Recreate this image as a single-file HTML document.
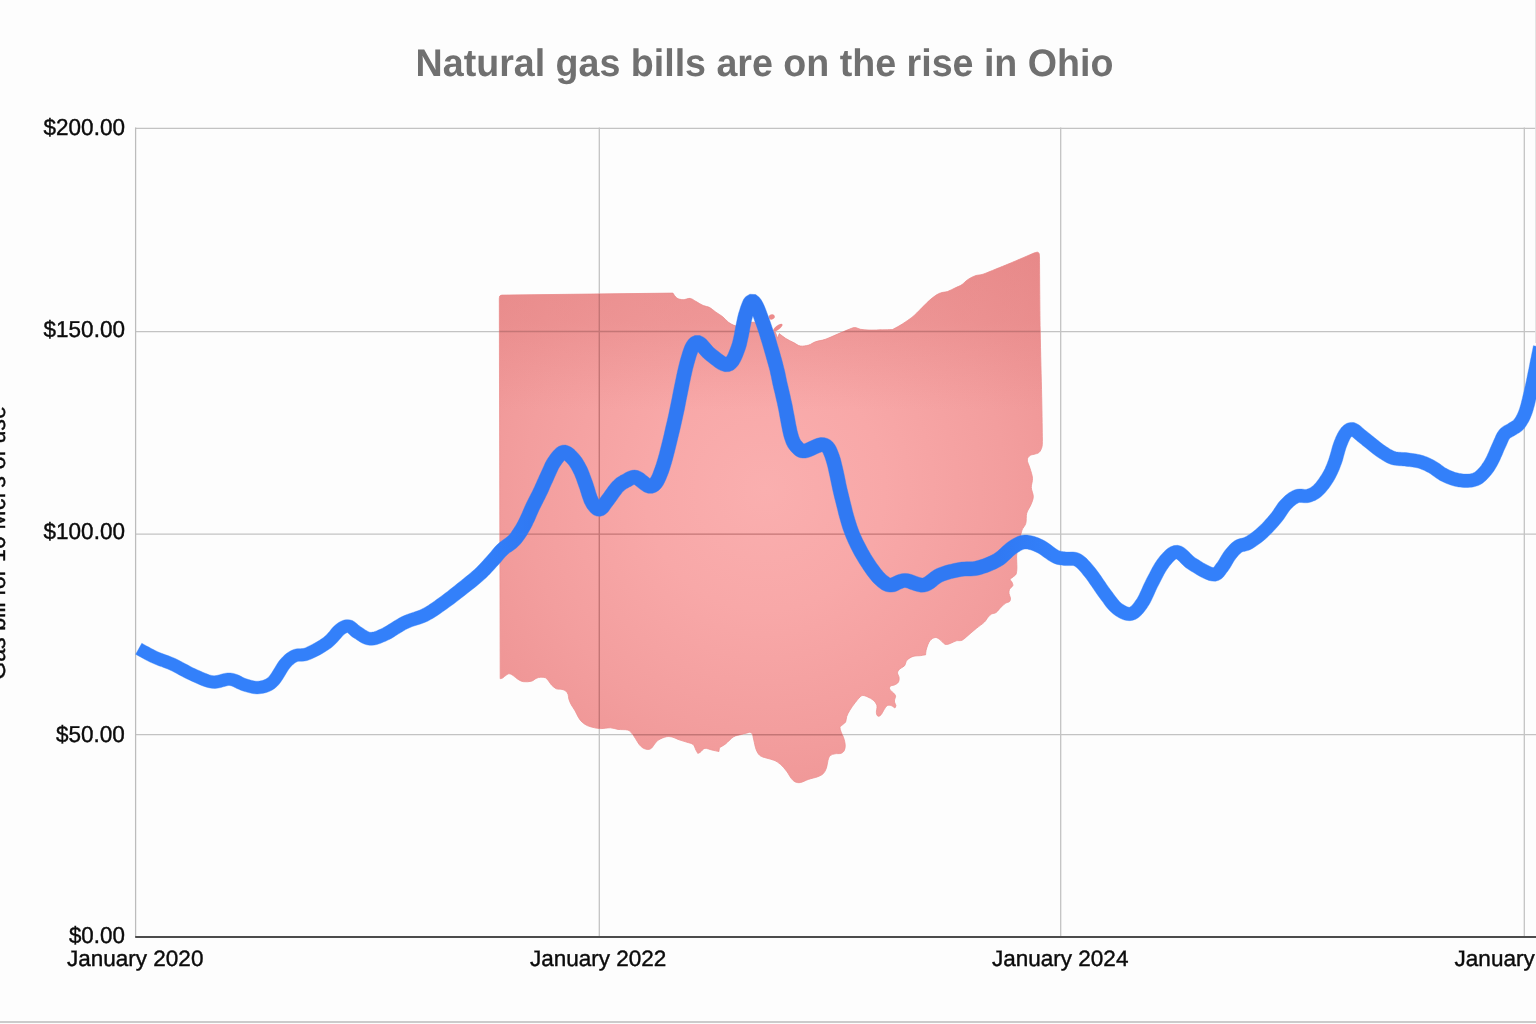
<!DOCTYPE html>
<html lang="en">
<head>
<meta charset="utf-8">
<title>Natural gas bills are on the rise in Ohio</title>
<style>
  html, body { margin: 0; padding: 0; }
  body { width: 1536px; height: 1024px; overflow: hidden; background: #fdfdfd; position: relative; }
  #chart { position: absolute; left: 0; top: 0; width: 1536px; height: 1024px; display: block; }
  text { font-family: "Liberation Sans", Arial, Helvetica, sans-serif; text-rendering: geometricPrecision; }
  .title { font-size: 38.4px; font-weight: 700; fill: #707070; }
  .tick { font-size: 23px; fill: #0b0b0b; stroke: #0b0b0b; stroke-width: 0.4px; paint-order: stroke fill; }
</style>
</head>
<body>
<svg id="chart" width="1536" height="1024" viewBox="0 0 1536 1024">
  <defs>
    <radialGradient id="og" gradientUnits="userSpaceOnUse" cx="765" cy="490" r="400">
      <stop offset="0" stop-color="#faafaf"/>
      <stop offset="0.3" stop-color="#f8a8a8"/>
      <stop offset="0.6" stop-color="#f39e9e"/>
      <stop offset="0.85" stop-color="#ee9494"/>
      <stop offset="1" stop-color="#ea8e8e"/>
    </radialGradient>
    <linearGradient id="lg" gradientUnits="userSpaceOnUse" x1="0" y1="0" x2="1536" y2="0">
      <stop offset="0" stop-color="#3380fa"/>
      <stop offset="0.31" stop-color="#3380fa"/>
      <stop offset="0.345" stop-color="#3079f3"/>
      <stop offset="0.65" stop-color="#3079f3"/>
      <stop offset="0.685" stop-color="#3380fa"/>
      <stop offset="1" stop-color="#3380fa"/>
    </linearGradient>
    <linearGradient id="ot" gradientUnits="userSpaceOnUse" x1="0" y1="250" x2="0" y2="410">
      <stop offset="0" stop-color="#df7c7c" stop-opacity="0.4"/>
      <stop offset="0.45" stop-color="#df7c7c" stop-opacity="0.33"/>
      <stop offset="1" stop-color="#df7c7c" stop-opacity="0"/>
    </linearGradient>
    <clipPath id="oc"><path d="M499.3 298.5C499.4 298.1 499.4 296.6 499.8 296.0C500.2 295.4 501.6 295.2 502.0 295.1L672.9 293.1C673.6 293.9 675.2 297.0 676.9 298.1C678.6 299.2 680.9 299.6 683.1 299.7C685.3 299.8 688.1 298.1 690.2 298.4C692.3 298.7 693.4 300.1 695.6 301.2C697.8 302.4 701.0 304.6 703.4 305.6C705.8 306.6 707.6 306.4 709.7 307.5C711.8 308.6 713.7 310.7 715.9 312.2C718.1 313.7 720.6 315.0 722.7 316.7C724.8 318.4 726.4 320.8 728.5 322.3C730.6 323.8 733.0 325.2 735.2 325.7C737.5 326.2 739.9 325.6 742.0 325.2C744.1 324.8 746.2 323.8 748.0 323.3C749.8 322.8 751.3 322.1 753.0 322.2C754.7 322.2 756.0 322.6 758.0 323.6C760.0 324.6 762.8 326.7 765.0 328.0C767.2 329.3 769.2 330.6 771.0 331.3C772.8 332.1 774.8 332.3 775.5 332.5L777.6 338.2L779.3 333.6C780.4 334.4 783.4 337.0 785.8 338.5C788.2 340.0 791.3 341.4 793.7 342.6C796.1 343.9 797.8 345.6 800.3 346.0C802.8 346.4 806.2 345.8 808.7 345.1C811.2 344.4 812.6 342.8 815.4 341.8C818.2 340.8 821.8 340.6 825.4 339.3C829.0 338.1 833.5 335.8 837.1 334.3C840.7 332.8 844.2 331.2 847.1 330.1C850.0 329.0 852.4 327.7 854.6 327.6C856.8 327.5 858.3 328.9 860.5 329.3C862.7 329.7 865.3 329.9 868.0 330.0C870.7 330.1 872.7 330.1 876.7 330.0C880.8 329.9 889.7 329.7 892.3 329.6C893.4 329.0 896.8 327.3 899.0 326.0C901.2 324.7 903.3 323.5 905.8 321.7C908.3 319.9 911.1 318.2 914.2 315.4C917.3 312.6 921.8 307.7 924.6 305.0C927.4 302.3 928.9 300.7 931.0 299.0C933.1 297.3 935.2 295.7 937.0 294.6C938.8 293.5 940.2 293.0 942.0 292.5C943.8 292.0 945.3 292.2 947.5 291.5C949.7 290.8 952.6 289.1 955.0 288.0C957.4 286.9 960.2 285.8 962.0 284.6C963.8 283.4 964.6 282.1 966.0 281.0C967.4 279.9 968.7 278.9 970.4 278.0C972.1 277.1 973.9 276.1 976.0 275.5C978.1 274.9 979.7 275.3 983.0 274.2C986.3 273.1 991.5 270.8 996.0 269.0C1000.5 267.2 1003.6 266.0 1010.0 263.3C1016.4 260.6 1030.4 254.6 1034.5 252.8C1035.0 252.7 1036.8 252.1 1037.6 252.2C1038.4 252.3 1038.8 252.9 1039.1 253.6C1039.4 254.3 1039.4 256.0 1039.5 256.5C1039.6 268.8 1039.8 306.6 1040.2 330.0C1040.6 353.4 1041.3 378.4 1041.7 396.7C1042.1 415.0 1042.3 432.8 1042.4 440.0C1042.3 441.1 1042.5 444.6 1042.0 446.7C1041.5 448.8 1040.5 451.0 1039.2 452.3C1037.9 453.6 1035.5 453.8 1034.0 454.3C1032.5 454.8 1031.1 454.6 1030.0 455.5C1028.9 456.4 1027.3 457.9 1027.3 460.0C1027.3 462.1 1029.1 465.2 1030.0 468.3C1030.9 471.4 1032.3 475.1 1032.5 478.3C1032.7 481.5 1031.2 484.4 1031.3 487.5C1031.4 490.6 1033.4 493.8 1033.3 496.7C1033.2 499.6 1031.9 502.2 1030.8 505.0C1029.7 507.8 1027.5 510.2 1026.7 513.3C1025.9 516.3 1026.6 520.5 1025.8 523.3C1025.0 526.1 1022.9 527.7 1022.0 530.0C1021.1 532.3 1021.2 534.3 1020.5 537.0C1019.8 539.7 1018.6 543.0 1018.0 546.0C1017.4 549.0 1016.9 552.7 1016.7 555.2C1016.5 557.7 1016.7 559.0 1016.7 561.1C1016.7 563.2 1017.0 566.0 1016.9 568.1C1016.8 570.2 1016.7 572.5 1016.1 574.0C1015.5 575.5 1014.1 576.0 1013.1 576.9C1012.1 577.8 1010.4 578.4 1010.2 579.3C1010.0 580.2 1011.6 581.1 1012.0 582.2C1012.4 583.3 1013.2 584.5 1012.8 585.7C1012.4 586.9 1010.2 587.9 1009.6 589.2C1009.0 590.5 1008.9 591.8 1009.0 593.3C1009.1 594.8 1010.3 596.6 1010.4 598.0C1010.5 599.4 1010.4 600.6 1009.6 601.5C1008.8 602.4 1007.0 602.3 1005.5 603.3C1004.0 604.3 1002.4 605.9 1000.8 607.4C999.2 608.9 997.7 611.4 996.1 612.5C994.5 613.6 992.8 613.3 991.4 614.1C990.0 614.9 989.1 616.1 987.9 617.4C986.7 618.7 986.3 620.2 984.4 622.1C982.5 624.0 978.9 626.3 976.2 628.5C973.5 630.7 970.4 633.5 968.0 635.5C965.6 637.5 964.1 639.3 962.1 640.2C960.1 641.1 958.2 640.3 956.3 640.8C954.3 641.3 952.3 642.8 950.4 643.4C948.5 644.0 946.9 644.9 945.1 644.3C943.4 643.7 941.5 640.7 939.9 639.6C938.2 638.5 936.9 637.3 935.2 637.5C933.5 637.7 931.4 638.9 929.9 640.8C928.4 642.7 927.1 646.7 926.4 649.0C925.7 651.3 925.7 653.8 925.6 654.8C924.8 654.9 923.0 655.3 920.9 655.6C918.8 655.9 915.4 655.6 913.1 656.4C910.8 657.2 908.3 658.7 906.9 660.3C905.5 661.9 905.7 664.4 904.5 665.8C903.3 667.2 901.0 667.7 899.8 668.9C898.6 670.1 897.6 671.4 897.5 672.8C897.4 674.2 899.0 675.9 899.1 677.5C899.2 679.1 899.1 681.0 898.3 682.2C897.5 683.5 895.7 684.4 894.4 685.0C893.1 685.6 891.3 685.4 890.5 686.1C889.7 686.8 889.2 688.0 889.7 689.2C890.2 690.4 892.6 691.9 893.6 693.1C894.6 694.3 895.5 694.9 895.6 696.2C895.7 697.6 894.4 699.4 894.4 701.0C894.4 702.6 895.8 704.4 895.9 705.6C896.0 706.8 895.0 707.6 894.8 708.0C894.2 707.6 892.5 706.0 891.2 705.6C890.0 705.2 888.5 705.0 887.3 705.6C886.1 706.2 885.2 708.0 884.2 709.5C883.2 711.0 882.1 713.6 881.1 714.7C880.1 715.8 878.8 716.6 878.0 716.2C877.2 715.9 876.6 714.5 876.4 712.7C876.2 710.9 877.4 707.7 876.9 705.6C876.4 703.5 874.8 701.6 873.3 700.2C871.8 698.8 869.5 697.8 867.8 697.0C866.1 696.2 864.4 695.5 863.1 695.5C861.8 695.5 861.3 695.8 860.0 697.0C858.7 698.2 857.0 700.3 855.3 702.5C853.6 704.7 851.2 707.9 849.8 710.3C848.4 712.6 847.4 714.6 846.7 716.6C846.0 718.6 846.4 720.6 845.6 722.0C844.8 723.4 842.9 724.3 842.0 725.2C841.1 726.1 840.1 726.3 840.0 727.5C839.9 728.7 840.6 730.5 841.2 732.2C841.9 733.9 842.9 735.6 843.6 737.7C844.3 739.8 845.1 742.6 845.2 744.7C845.3 746.8 845.1 748.8 844.4 750.2C843.7 751.6 842.8 752.7 841.2 753.3C839.7 753.9 836.8 753.4 835.0 753.8C833.2 754.1 831.5 754.5 830.3 755.6C829.1 756.7 828.6 758.2 828.0 760.3C827.4 762.4 827.2 765.9 826.4 768.1C825.6 770.3 824.7 772.2 823.3 773.6C821.9 775.0 820.3 775.7 817.8 776.7C815.3 777.7 811.3 778.4 808.4 779.4C805.5 780.4 802.8 782.1 800.6 782.5C798.4 782.9 796.8 782.6 795.2 781.9C793.6 781.2 792.7 780.1 791.2 778.3C789.8 776.5 788.4 773.6 786.6 771.2C784.8 768.9 782.4 766.0 780.3 764.2C778.2 762.4 776.4 761.3 774.1 760.3C771.8 759.3 768.6 758.8 766.2 758.0C763.9 757.2 761.7 757.0 760.0 755.6C758.3 754.2 757.1 752.0 756.1 749.4C755.1 746.8 754.4 742.6 753.8 740.0C753.1 737.4 752.9 735.0 752.2 733.8C751.5 732.5 750.2 732.5 749.8 732.2C748.4 732.6 744.0 733.7 741.2 734.5C738.5 735.3 736.0 735.3 733.4 736.9C730.8 738.5 727.9 742.1 725.6 743.9C723.3 745.7 720.4 747.1 719.4 747.8L718.9 751.6C717.7 751.3 714.2 750.5 711.9 750.0C709.5 749.5 706.8 748.0 704.8 748.4C702.8 748.8 701.4 751.5 700.2 752.3C699.0 753.1 698.2 753.2 697.8 753.4C697.5 752.8 696.7 751.5 695.9 750.0C695.1 748.5 694.6 745.8 693.1 744.5C691.6 743.2 689.2 743.0 686.9 742.2C684.6 741.4 681.5 740.6 679.1 739.8C676.8 739.0 674.9 737.7 672.8 737.2C670.7 736.7 668.9 736.3 666.6 736.7C664.3 737.1 660.7 738.6 658.8 739.8C656.8 741.0 656.0 742.4 654.8 743.8C653.6 745.1 652.9 747.0 651.7 748.0C650.5 749.0 649.2 749.5 647.8 749.5C646.4 749.5 644.5 748.9 643.1 748.1C641.7 747.3 640.5 746.1 639.2 744.5C637.9 742.9 636.6 740.2 635.3 738.3C634.0 736.3 632.7 734.2 631.4 732.8C630.1 731.4 629.7 730.6 627.5 730.0C625.3 729.4 621.0 729.8 618.1 729.4C615.2 729.0 613.2 727.9 610.3 727.8C607.4 727.7 603.5 728.6 600.9 728.6C598.3 728.6 596.9 728.3 594.7 727.8C592.5 727.3 589.8 726.7 587.7 725.8C585.6 724.9 583.8 723.6 582.2 722.2C580.6 720.8 579.5 719.1 578.3 717.2C577.1 715.3 576.4 713.1 575.2 711.0C574.0 708.9 572.3 706.7 571.2 704.7C570.2 702.7 569.4 700.9 568.9 699.2C568.4 697.5 568.6 695.9 568.1 694.5C567.6 693.1 566.8 691.9 565.8 691.0C564.8 690.1 563.5 689.8 561.9 689.4C560.3 689.0 558.1 689.5 556.4 688.8C554.7 688.0 553.0 686.5 551.7 685.2C550.4 683.9 549.6 682.2 548.6 681.0C547.6 679.8 546.8 678.4 545.5 677.8C544.2 677.2 542.4 677.1 540.8 677.2C539.2 677.3 537.7 677.7 536.1 678.4C534.5 679.1 533.5 680.7 531.4 681.2C529.3 681.8 525.8 682.0 523.6 681.7C521.4 681.4 519.8 680.4 518.1 679.4C516.4 678.4 514.8 676.7 513.4 675.8C512.0 674.9 510.7 673.9 509.5 673.8C508.3 673.6 507.6 674.3 506.4 675.0C505.2 675.7 503.5 677.5 502.5 678.1C501.5 678.7 500.6 678.6 500.2 678.7L499.3 298.5Z"/></clipPath>
  </defs>
  <rect x="0" y="0" width="1536" height="1024" fill="#fdfdfd"/>
  <!-- gridlines -->
  <g stroke="#c3c3c3" stroke-width="1.3" fill="none">
    <line x1="135.2" y1="128.3" x2="1536" y2="128.3"/>
    <line x1="135.2" y1="331.55" x2="1536" y2="331.55"/>
    <line x1="135.2" y1="534.1" x2="1536" y2="534.1"/>
    <line x1="135.2" y1="734.7" x2="1536" y2="734.7"/>
    <line x1="599.3" y1="127.6" x2="599.3" y2="937"/>
    <line x1="1060.7" y1="127.6" x2="1060.7" y2="937"/>
    <line x1="1524.3" y1="127.6" x2="1524.3" y2="937"/>
  </g>
  <line x1="135.6" y1="127.6" x2="135.6" y2="937" stroke="#bcbcbc" stroke-width="1.25"/>
  <!-- Ohio silhouette -->
  <g>
    <path d="M499.3 298.5C499.4 298.1 499.4 296.6 499.8 296.0C500.2 295.4 501.6 295.2 502.0 295.1L672.9 293.1C673.6 293.9 675.2 297.0 676.9 298.1C678.6 299.2 680.9 299.6 683.1 299.7C685.3 299.8 688.1 298.1 690.2 298.4C692.3 298.7 693.4 300.1 695.6 301.2C697.8 302.4 701.0 304.6 703.4 305.6C705.8 306.6 707.6 306.4 709.7 307.5C711.8 308.6 713.7 310.7 715.9 312.2C718.1 313.7 720.6 315.0 722.7 316.7C724.8 318.4 726.4 320.8 728.5 322.3C730.6 323.8 733.0 325.2 735.2 325.7C737.5 326.2 739.9 325.6 742.0 325.2C744.1 324.8 746.2 323.8 748.0 323.3C749.8 322.8 751.3 322.1 753.0 322.2C754.7 322.2 756.0 322.6 758.0 323.6C760.0 324.6 762.8 326.7 765.0 328.0C767.2 329.3 769.2 330.6 771.0 331.3C772.8 332.1 774.8 332.3 775.5 332.5L777.6 338.2L779.3 333.6C780.4 334.4 783.4 337.0 785.8 338.5C788.2 340.0 791.3 341.4 793.7 342.6C796.1 343.9 797.8 345.6 800.3 346.0C802.8 346.4 806.2 345.8 808.7 345.1C811.2 344.4 812.6 342.8 815.4 341.8C818.2 340.8 821.8 340.6 825.4 339.3C829.0 338.1 833.5 335.8 837.1 334.3C840.7 332.8 844.2 331.2 847.1 330.1C850.0 329.0 852.4 327.7 854.6 327.6C856.8 327.5 858.3 328.9 860.5 329.3C862.7 329.7 865.3 329.9 868.0 330.0C870.7 330.1 872.7 330.1 876.7 330.0C880.8 329.9 889.7 329.7 892.3 329.6C893.4 329.0 896.8 327.3 899.0 326.0C901.2 324.7 903.3 323.5 905.8 321.7C908.3 319.9 911.1 318.2 914.2 315.4C917.3 312.6 921.8 307.7 924.6 305.0C927.4 302.3 928.9 300.7 931.0 299.0C933.1 297.3 935.2 295.7 937.0 294.6C938.8 293.5 940.2 293.0 942.0 292.5C943.8 292.0 945.3 292.2 947.5 291.5C949.7 290.8 952.6 289.1 955.0 288.0C957.4 286.9 960.2 285.8 962.0 284.6C963.8 283.4 964.6 282.1 966.0 281.0C967.4 279.9 968.7 278.9 970.4 278.0C972.1 277.1 973.9 276.1 976.0 275.5C978.1 274.9 979.7 275.3 983.0 274.2C986.3 273.1 991.5 270.8 996.0 269.0C1000.5 267.2 1003.6 266.0 1010.0 263.3C1016.4 260.6 1030.4 254.6 1034.5 252.8C1035.0 252.7 1036.8 252.1 1037.6 252.2C1038.4 252.3 1038.8 252.9 1039.1 253.6C1039.4 254.3 1039.4 256.0 1039.5 256.5C1039.6 268.8 1039.8 306.6 1040.2 330.0C1040.6 353.4 1041.3 378.4 1041.7 396.7C1042.1 415.0 1042.3 432.8 1042.4 440.0C1042.3 441.1 1042.5 444.6 1042.0 446.7C1041.5 448.8 1040.5 451.0 1039.2 452.3C1037.9 453.6 1035.5 453.8 1034.0 454.3C1032.5 454.8 1031.1 454.6 1030.0 455.5C1028.9 456.4 1027.3 457.9 1027.3 460.0C1027.3 462.1 1029.1 465.2 1030.0 468.3C1030.9 471.4 1032.3 475.1 1032.5 478.3C1032.7 481.5 1031.2 484.4 1031.3 487.5C1031.4 490.6 1033.4 493.8 1033.3 496.7C1033.2 499.6 1031.9 502.2 1030.8 505.0C1029.7 507.8 1027.5 510.2 1026.7 513.3C1025.9 516.3 1026.6 520.5 1025.8 523.3C1025.0 526.1 1022.9 527.7 1022.0 530.0C1021.1 532.3 1021.2 534.3 1020.5 537.0C1019.8 539.7 1018.6 543.0 1018.0 546.0C1017.4 549.0 1016.9 552.7 1016.7 555.2C1016.5 557.7 1016.7 559.0 1016.7 561.1C1016.7 563.2 1017.0 566.0 1016.9 568.1C1016.8 570.2 1016.7 572.5 1016.1 574.0C1015.5 575.5 1014.1 576.0 1013.1 576.9C1012.1 577.8 1010.4 578.4 1010.2 579.3C1010.0 580.2 1011.6 581.1 1012.0 582.2C1012.4 583.3 1013.2 584.5 1012.8 585.7C1012.4 586.9 1010.2 587.9 1009.6 589.2C1009.0 590.5 1008.9 591.8 1009.0 593.3C1009.1 594.8 1010.3 596.6 1010.4 598.0C1010.5 599.4 1010.4 600.6 1009.6 601.5C1008.8 602.4 1007.0 602.3 1005.5 603.3C1004.0 604.3 1002.4 605.9 1000.8 607.4C999.2 608.9 997.7 611.4 996.1 612.5C994.5 613.6 992.8 613.3 991.4 614.1C990.0 614.9 989.1 616.1 987.9 617.4C986.7 618.7 986.3 620.2 984.4 622.1C982.5 624.0 978.9 626.3 976.2 628.5C973.5 630.7 970.4 633.5 968.0 635.5C965.6 637.5 964.1 639.3 962.1 640.2C960.1 641.1 958.2 640.3 956.3 640.8C954.3 641.3 952.3 642.8 950.4 643.4C948.5 644.0 946.9 644.9 945.1 644.3C943.4 643.7 941.5 640.7 939.9 639.6C938.2 638.5 936.9 637.3 935.2 637.5C933.5 637.7 931.4 638.9 929.9 640.8C928.4 642.7 927.1 646.7 926.4 649.0C925.7 651.3 925.7 653.8 925.6 654.8C924.8 654.9 923.0 655.3 920.9 655.6C918.8 655.9 915.4 655.6 913.1 656.4C910.8 657.2 908.3 658.7 906.9 660.3C905.5 661.9 905.7 664.4 904.5 665.8C903.3 667.2 901.0 667.7 899.8 668.9C898.6 670.1 897.6 671.4 897.5 672.8C897.4 674.2 899.0 675.9 899.1 677.5C899.2 679.1 899.1 681.0 898.3 682.2C897.5 683.5 895.7 684.4 894.4 685.0C893.1 685.6 891.3 685.4 890.5 686.1C889.7 686.8 889.2 688.0 889.7 689.2C890.2 690.4 892.6 691.9 893.6 693.1C894.6 694.3 895.5 694.9 895.6 696.2C895.7 697.6 894.4 699.4 894.4 701.0C894.4 702.6 895.8 704.4 895.9 705.6C896.0 706.8 895.0 707.6 894.8 708.0C894.2 707.6 892.5 706.0 891.2 705.6C890.0 705.2 888.5 705.0 887.3 705.6C886.1 706.2 885.2 708.0 884.2 709.5C883.2 711.0 882.1 713.6 881.1 714.7C880.1 715.8 878.8 716.6 878.0 716.2C877.2 715.9 876.6 714.5 876.4 712.7C876.2 710.9 877.4 707.7 876.9 705.6C876.4 703.5 874.8 701.6 873.3 700.2C871.8 698.8 869.5 697.8 867.8 697.0C866.1 696.2 864.4 695.5 863.1 695.5C861.8 695.5 861.3 695.8 860.0 697.0C858.7 698.2 857.0 700.3 855.3 702.5C853.6 704.7 851.2 707.9 849.8 710.3C848.4 712.6 847.4 714.6 846.7 716.6C846.0 718.6 846.4 720.6 845.6 722.0C844.8 723.4 842.9 724.3 842.0 725.2C841.1 726.1 840.1 726.3 840.0 727.5C839.9 728.7 840.6 730.5 841.2 732.2C841.9 733.9 842.9 735.6 843.6 737.7C844.3 739.8 845.1 742.6 845.2 744.7C845.3 746.8 845.1 748.8 844.4 750.2C843.7 751.6 842.8 752.7 841.2 753.3C839.7 753.9 836.8 753.4 835.0 753.8C833.2 754.1 831.5 754.5 830.3 755.6C829.1 756.7 828.6 758.2 828.0 760.3C827.4 762.4 827.2 765.9 826.4 768.1C825.6 770.3 824.7 772.2 823.3 773.6C821.9 775.0 820.3 775.7 817.8 776.7C815.3 777.7 811.3 778.4 808.4 779.4C805.5 780.4 802.8 782.1 800.6 782.5C798.4 782.9 796.8 782.6 795.2 781.9C793.6 781.2 792.7 780.1 791.2 778.3C789.8 776.5 788.4 773.6 786.6 771.2C784.8 768.9 782.4 766.0 780.3 764.2C778.2 762.4 776.4 761.3 774.1 760.3C771.8 759.3 768.6 758.8 766.2 758.0C763.9 757.2 761.7 757.0 760.0 755.6C758.3 754.2 757.1 752.0 756.1 749.4C755.1 746.8 754.4 742.6 753.8 740.0C753.1 737.4 752.9 735.0 752.2 733.8C751.5 732.5 750.2 732.5 749.8 732.2C748.4 732.6 744.0 733.7 741.2 734.5C738.5 735.3 736.0 735.3 733.4 736.9C730.8 738.5 727.9 742.1 725.6 743.9C723.3 745.7 720.4 747.1 719.4 747.8L718.9 751.6C717.7 751.3 714.2 750.5 711.9 750.0C709.5 749.5 706.8 748.0 704.8 748.4C702.8 748.8 701.4 751.5 700.2 752.3C699.0 753.1 698.2 753.2 697.8 753.4C697.5 752.8 696.7 751.5 695.9 750.0C695.1 748.5 694.6 745.8 693.1 744.5C691.6 743.2 689.2 743.0 686.9 742.2C684.6 741.4 681.5 740.6 679.1 739.8C676.8 739.0 674.9 737.7 672.8 737.2C670.7 736.7 668.9 736.3 666.6 736.7C664.3 737.1 660.7 738.6 658.8 739.8C656.8 741.0 656.0 742.4 654.8 743.8C653.6 745.1 652.9 747.0 651.7 748.0C650.5 749.0 649.2 749.5 647.8 749.5C646.4 749.5 644.5 748.9 643.1 748.1C641.7 747.3 640.5 746.1 639.2 744.5C637.9 742.9 636.6 740.2 635.3 738.3C634.0 736.3 632.7 734.2 631.4 732.8C630.1 731.4 629.7 730.6 627.5 730.0C625.3 729.4 621.0 729.8 618.1 729.4C615.2 729.0 613.2 727.9 610.3 727.8C607.4 727.7 603.5 728.6 600.9 728.6C598.3 728.6 596.9 728.3 594.7 727.8C592.5 727.3 589.8 726.7 587.7 725.8C585.6 724.9 583.8 723.6 582.2 722.2C580.6 720.8 579.5 719.1 578.3 717.2C577.1 715.3 576.4 713.1 575.2 711.0C574.0 708.9 572.3 706.7 571.2 704.7C570.2 702.7 569.4 700.9 568.9 699.2C568.4 697.5 568.6 695.9 568.1 694.5C567.6 693.1 566.8 691.9 565.8 691.0C564.8 690.1 563.5 689.8 561.9 689.4C560.3 689.0 558.1 689.5 556.4 688.8C554.7 688.0 553.0 686.5 551.7 685.2C550.4 683.9 549.6 682.2 548.6 681.0C547.6 679.8 546.8 678.4 545.5 677.8C544.2 677.2 542.4 677.1 540.8 677.2C539.2 677.3 537.7 677.7 536.1 678.4C534.5 679.1 533.5 680.7 531.4 681.2C529.3 681.8 525.8 682.0 523.6 681.7C521.4 681.4 519.8 680.4 518.1 679.4C516.4 678.4 514.8 676.7 513.4 675.8C512.0 674.9 510.7 673.9 509.5 673.8C508.3 673.6 507.6 674.3 506.4 675.0C505.2 675.7 503.5 677.5 502.5 678.1C501.5 678.7 500.6 678.6 500.2 678.7L499.3 298.5Z" fill="url(#og)" stroke="#ec9191" stroke-width="0.8" stroke-linejoin="round"/>
    <path d="M499.3 298.5C499.4 298.1 499.4 296.6 499.8 296.0C500.2 295.4 501.6 295.2 502.0 295.1L672.9 293.1C673.6 293.9 675.2 297.0 676.9 298.1C678.6 299.2 680.9 299.6 683.1 299.7C685.3 299.8 688.1 298.1 690.2 298.4C692.3 298.7 693.4 300.1 695.6 301.2C697.8 302.4 701.0 304.6 703.4 305.6C705.8 306.6 707.6 306.4 709.7 307.5C711.8 308.6 713.7 310.7 715.9 312.2C718.1 313.7 720.6 315.0 722.7 316.7C724.8 318.4 726.4 320.8 728.5 322.3C730.6 323.8 733.0 325.2 735.2 325.7C737.5 326.2 739.9 325.6 742.0 325.2C744.1 324.8 746.2 323.8 748.0 323.3C749.8 322.8 751.3 322.1 753.0 322.2C754.7 322.2 756.0 322.6 758.0 323.6C760.0 324.6 762.8 326.7 765.0 328.0C767.2 329.3 769.2 330.6 771.0 331.3C772.8 332.1 774.8 332.3 775.5 332.5L777.6 338.2L779.3 333.6C780.4 334.4 783.4 337.0 785.8 338.5C788.2 340.0 791.3 341.4 793.7 342.6C796.1 343.9 797.8 345.6 800.3 346.0C802.8 346.4 806.2 345.8 808.7 345.1C811.2 344.4 812.6 342.8 815.4 341.8C818.2 340.8 821.8 340.6 825.4 339.3C829.0 338.1 833.5 335.8 837.1 334.3C840.7 332.8 844.2 331.2 847.1 330.1C850.0 329.0 852.4 327.7 854.6 327.6C856.8 327.5 858.3 328.9 860.5 329.3C862.7 329.7 865.3 329.9 868.0 330.0C870.7 330.1 872.7 330.1 876.7 330.0C880.8 329.9 889.7 329.7 892.3 329.6C893.4 329.0 896.8 327.3 899.0 326.0C901.2 324.7 903.3 323.5 905.8 321.7C908.3 319.9 911.1 318.2 914.2 315.4C917.3 312.6 921.8 307.7 924.6 305.0C927.4 302.3 928.9 300.7 931.0 299.0C933.1 297.3 935.2 295.7 937.0 294.6C938.8 293.5 940.2 293.0 942.0 292.5C943.8 292.0 945.3 292.2 947.5 291.5C949.7 290.8 952.6 289.1 955.0 288.0C957.4 286.9 960.2 285.8 962.0 284.6C963.8 283.4 964.6 282.1 966.0 281.0C967.4 279.9 968.7 278.9 970.4 278.0C972.1 277.1 973.9 276.1 976.0 275.5C978.1 274.9 979.7 275.3 983.0 274.2C986.3 273.1 991.5 270.8 996.0 269.0C1000.5 267.2 1003.6 266.0 1010.0 263.3C1016.4 260.6 1030.4 254.6 1034.5 252.8C1035.0 252.7 1036.8 252.1 1037.6 252.2C1038.4 252.3 1038.8 252.9 1039.1 253.6C1039.4 254.3 1039.4 256.0 1039.5 256.5C1039.6 268.8 1039.8 306.6 1040.2 330.0C1040.6 353.4 1041.3 378.4 1041.7 396.7C1042.1 415.0 1042.3 432.8 1042.4 440.0C1042.3 441.1 1042.5 444.6 1042.0 446.7C1041.5 448.8 1040.5 451.0 1039.2 452.3C1037.9 453.6 1035.5 453.8 1034.0 454.3C1032.5 454.8 1031.1 454.6 1030.0 455.5C1028.9 456.4 1027.3 457.9 1027.3 460.0C1027.3 462.1 1029.1 465.2 1030.0 468.3C1030.9 471.4 1032.3 475.1 1032.5 478.3C1032.7 481.5 1031.2 484.4 1031.3 487.5C1031.4 490.6 1033.4 493.8 1033.3 496.7C1033.2 499.6 1031.9 502.2 1030.8 505.0C1029.7 507.8 1027.5 510.2 1026.7 513.3C1025.9 516.3 1026.6 520.5 1025.8 523.3C1025.0 526.1 1022.9 527.7 1022.0 530.0C1021.1 532.3 1021.2 534.3 1020.5 537.0C1019.8 539.7 1018.6 543.0 1018.0 546.0C1017.4 549.0 1016.9 552.7 1016.7 555.2C1016.5 557.7 1016.7 559.0 1016.7 561.1C1016.7 563.2 1017.0 566.0 1016.9 568.1C1016.8 570.2 1016.7 572.5 1016.1 574.0C1015.5 575.5 1014.1 576.0 1013.1 576.9C1012.1 577.8 1010.4 578.4 1010.2 579.3C1010.0 580.2 1011.6 581.1 1012.0 582.2C1012.4 583.3 1013.2 584.5 1012.8 585.7C1012.4 586.9 1010.2 587.9 1009.6 589.2C1009.0 590.5 1008.9 591.8 1009.0 593.3C1009.1 594.8 1010.3 596.6 1010.4 598.0C1010.5 599.4 1010.4 600.6 1009.6 601.5C1008.8 602.4 1007.0 602.3 1005.5 603.3C1004.0 604.3 1002.4 605.9 1000.8 607.4C999.2 608.9 997.7 611.4 996.1 612.5C994.5 613.6 992.8 613.3 991.4 614.1C990.0 614.9 989.1 616.1 987.9 617.4C986.7 618.7 986.3 620.2 984.4 622.1C982.5 624.0 978.9 626.3 976.2 628.5C973.5 630.7 970.4 633.5 968.0 635.5C965.6 637.5 964.1 639.3 962.1 640.2C960.1 641.1 958.2 640.3 956.3 640.8C954.3 641.3 952.3 642.8 950.4 643.4C948.5 644.0 946.9 644.9 945.1 644.3C943.4 643.7 941.5 640.7 939.9 639.6C938.2 638.5 936.9 637.3 935.2 637.5C933.5 637.7 931.4 638.9 929.9 640.8C928.4 642.7 927.1 646.7 926.4 649.0C925.7 651.3 925.7 653.8 925.6 654.8C924.8 654.9 923.0 655.3 920.9 655.6C918.8 655.9 915.4 655.6 913.1 656.4C910.8 657.2 908.3 658.7 906.9 660.3C905.5 661.9 905.7 664.4 904.5 665.8C903.3 667.2 901.0 667.7 899.8 668.9C898.6 670.1 897.6 671.4 897.5 672.8C897.4 674.2 899.0 675.9 899.1 677.5C899.2 679.1 899.1 681.0 898.3 682.2C897.5 683.5 895.7 684.4 894.4 685.0C893.1 685.6 891.3 685.4 890.5 686.1C889.7 686.8 889.2 688.0 889.7 689.2C890.2 690.4 892.6 691.9 893.6 693.1C894.6 694.3 895.5 694.9 895.6 696.2C895.7 697.6 894.4 699.4 894.4 701.0C894.4 702.6 895.8 704.4 895.9 705.6C896.0 706.8 895.0 707.6 894.8 708.0C894.2 707.6 892.5 706.0 891.2 705.6C890.0 705.2 888.5 705.0 887.3 705.6C886.1 706.2 885.2 708.0 884.2 709.5C883.2 711.0 882.1 713.6 881.1 714.7C880.1 715.8 878.8 716.6 878.0 716.2C877.2 715.9 876.6 714.5 876.4 712.7C876.2 710.9 877.4 707.7 876.9 705.6C876.4 703.5 874.8 701.6 873.3 700.2C871.8 698.8 869.5 697.8 867.8 697.0C866.1 696.2 864.4 695.5 863.1 695.5C861.8 695.5 861.3 695.8 860.0 697.0C858.7 698.2 857.0 700.3 855.3 702.5C853.6 704.7 851.2 707.9 849.8 710.3C848.4 712.6 847.4 714.6 846.7 716.6C846.0 718.6 846.4 720.6 845.6 722.0C844.8 723.4 842.9 724.3 842.0 725.2C841.1 726.1 840.1 726.3 840.0 727.5C839.9 728.7 840.6 730.5 841.2 732.2C841.9 733.9 842.9 735.6 843.6 737.7C844.3 739.8 845.1 742.6 845.2 744.7C845.3 746.8 845.1 748.8 844.4 750.2C843.7 751.6 842.8 752.7 841.2 753.3C839.7 753.9 836.8 753.4 835.0 753.8C833.2 754.1 831.5 754.5 830.3 755.6C829.1 756.7 828.6 758.2 828.0 760.3C827.4 762.4 827.2 765.9 826.4 768.1C825.6 770.3 824.7 772.2 823.3 773.6C821.9 775.0 820.3 775.7 817.8 776.7C815.3 777.7 811.3 778.4 808.4 779.4C805.5 780.4 802.8 782.1 800.6 782.5C798.4 782.9 796.8 782.6 795.2 781.9C793.6 781.2 792.7 780.1 791.2 778.3C789.8 776.5 788.4 773.6 786.6 771.2C784.8 768.9 782.4 766.0 780.3 764.2C778.2 762.4 776.4 761.3 774.1 760.3C771.8 759.3 768.6 758.8 766.2 758.0C763.9 757.2 761.7 757.0 760.0 755.6C758.3 754.2 757.1 752.0 756.1 749.4C755.1 746.8 754.4 742.6 753.8 740.0C753.1 737.4 752.9 735.0 752.2 733.8C751.5 732.5 750.2 732.5 749.8 732.2C748.4 732.6 744.0 733.7 741.2 734.5C738.5 735.3 736.0 735.3 733.4 736.9C730.8 738.5 727.9 742.1 725.6 743.9C723.3 745.7 720.4 747.1 719.4 747.8L718.9 751.6C717.7 751.3 714.2 750.5 711.9 750.0C709.5 749.5 706.8 748.0 704.8 748.4C702.8 748.8 701.4 751.5 700.2 752.3C699.0 753.1 698.2 753.2 697.8 753.4C697.5 752.8 696.7 751.5 695.9 750.0C695.1 748.5 694.6 745.8 693.1 744.5C691.6 743.2 689.2 743.0 686.9 742.2C684.6 741.4 681.5 740.6 679.1 739.8C676.8 739.0 674.9 737.7 672.8 737.2C670.7 736.7 668.9 736.3 666.6 736.7C664.3 737.1 660.7 738.6 658.8 739.8C656.8 741.0 656.0 742.4 654.8 743.8C653.6 745.1 652.9 747.0 651.7 748.0C650.5 749.0 649.2 749.5 647.8 749.5C646.4 749.5 644.5 748.9 643.1 748.1C641.7 747.3 640.5 746.1 639.2 744.5C637.9 742.9 636.6 740.2 635.3 738.3C634.0 736.3 632.7 734.2 631.4 732.8C630.1 731.4 629.7 730.6 627.5 730.0C625.3 729.4 621.0 729.8 618.1 729.4C615.2 729.0 613.2 727.9 610.3 727.8C607.4 727.7 603.5 728.6 600.9 728.6C598.3 728.6 596.9 728.3 594.7 727.8C592.5 727.3 589.8 726.7 587.7 725.8C585.6 724.9 583.8 723.6 582.2 722.2C580.6 720.8 579.5 719.1 578.3 717.2C577.1 715.3 576.4 713.1 575.2 711.0C574.0 708.9 572.3 706.7 571.2 704.7C570.2 702.7 569.4 700.9 568.9 699.2C568.4 697.5 568.6 695.9 568.1 694.5C567.6 693.1 566.8 691.9 565.8 691.0C564.8 690.1 563.5 689.8 561.9 689.4C560.3 689.0 558.1 689.5 556.4 688.8C554.7 688.0 553.0 686.5 551.7 685.2C550.4 683.9 549.6 682.2 548.6 681.0C547.6 679.8 546.8 678.4 545.5 677.8C544.2 677.2 542.4 677.1 540.8 677.2C539.2 677.3 537.7 677.7 536.1 678.4C534.5 679.1 533.5 680.7 531.4 681.2C529.3 681.8 525.8 682.0 523.6 681.7C521.4 681.4 519.8 680.4 518.1 679.4C516.4 678.4 514.8 676.7 513.4 675.8C512.0 674.9 510.7 673.9 509.5 673.8C508.3 673.6 507.6 674.3 506.4 675.0C505.2 675.7 503.5 677.5 502.5 678.1C501.5 678.7 500.6 678.6 500.2 678.7L499.3 298.5Z" fill="url(#ot)"/>
    <ellipse cx="771.8" cy="316.9" rx="3" ry="2.6" fill="#ec8b8b" transform="rotate(-20 771.8 316.9)"/>
    <ellipse cx="777.8" cy="327.7" rx="5.8" ry="2.1" fill="#ec8b8b" transform="rotate(-38 777.8 327.7)"/>
  </g>
  <!-- gridlines showing through Ohio -->
  <g stroke="#c47676" stroke-width="1.4" fill="none" clip-path="url(#oc)">
    <line x1="135.2" y1="331.55" x2="1536" y2="331.55"/>
    <line x1="135.2" y1="534.1" x2="1536" y2="534.1"/>
    <line x1="135.2" y1="734.7" x2="1536" y2="734.7"/>
    <line x1="599.3" y1="127.6" x2="599.3" y2="937"/>
  </g>
  <!-- axis baseline -->
  <line x1="135.2" y1="937.1" x2="1536" y2="937.1" stroke="#4c4c4c" stroke-width="2"/>
  <!-- data line -->
  <path d="M135.7 654.3L137.0 655.0L138.6 655.9L140.6 657.0L142.8 658.2L145.1 659.5L147.6 660.8L150.0 662.0L152.4 663.1L154.7 664.1L157.0 665.0L159.2 665.9L161.4 666.6L163.5 667.4L165.6 668.2L167.8 669.1L169.9 670.0L172.1 671.0L174.4 672.2L176.8 673.5L179.3 674.9L181.9 676.3L184.6 677.7L187.2 679.0L189.9 680.2L192.4 681.4L194.9 682.5L197.6 683.7L200.3 684.9L203.0 686.0L205.8 686.9L208.7 687.7L211.8 688.3L215.1 688.4L218.1 688.1L220.9 687.5L223.3 686.8L225.4 686.2L227.1 685.8L228.4 685.5L229.5 685.5L230.6 685.7L231.9 686.1L233.4 686.7L235.0 687.5L236.8 688.4L238.8 689.3L240.9 690.2L243.1 691.0L245.0 691.6L246.8 692.1L248.6 692.6L250.6 693.1L252.6 693.5L254.8 693.8L257.1 693.9L259.3 693.8L261.4 693.5L263.5 693.2L265.6 692.7L267.8 692.0L270.1 691.1L272.3 689.9L274.6 688.4L276.8 686.6L279.0 684.3L280.9 681.7L282.7 679.0L284.4 676.3L285.9 673.7L287.4 671.3L288.7 669.3L289.9 667.7L291.0 666.5L292.1 665.3L293.0 664.4L293.9 663.7L294.8 663.0L295.6 662.5L296.5 662.0L297.4 661.6L297.9 661.4L298.5 661.3L299.4 661.3L300.7 661.3L302.5 661.2L304.7 661.0L307.2 660.5L309.8 659.6L312.3 658.6L315.0 657.3L317.7 655.9L320.6 654.4L323.5 652.7L326.2 651.0L328.9 649.3L331.4 647.6L333.7 645.6L335.8 643.6L337.7 641.6L339.4 639.6L340.8 637.9L342.1 636.4L343.1 635.3L344.0 634.5L345.0 633.8L345.8 633.2L346.5 632.9L346.9 632.7L347.2 632.6L347.3 632.6L347.4 632.6L347.4 632.6L347.3 632.5L347.4 632.6L347.8 632.9L348.6 633.6L349.6 634.5L350.9 635.7L352.4 636.9L354.0 637.9L355.4 638.8L356.7 639.7L358.3 640.7L360.1 641.9L362.0 643.0L364.3 644.0L366.8 644.8L369.5 645.2L372.1 645.2L374.5 645.0L376.9 644.5L379.1 643.8L381.3 643.0L383.4 642.1L385.6 641.2L387.9 640.1L390.4 638.9L393.0 637.4L395.6 635.7L398.2 634.1L400.8 632.5L403.3 631.0L405.6 629.6L407.9 628.4L410.0 627.5L412.3 626.6L414.7 625.8L417.2 625.0L419.8 624.2L422.5 623.3L425.2 622.2L428.0 621.0L430.5 619.6L433.0 618.2L435.4 616.7L437.7 615.2L439.9 613.7L442.2 612.1L444.4 610.5L446.6 609.0L448.9 607.3L451.3 605.6L453.6 603.9L456.0 602.1L458.3 600.3L460.6 598.5L462.9 596.7L465.2 594.9L467.6 593.0L469.9 591.2L472.4 589.3L474.8 587.4L477.2 585.4L479.5 583.5L481.8 581.6L484.0 579.6L486.1 577.7L488.0 575.8L489.9 573.9L491.6 572.0L493.3 570.2L494.9 568.5L496.4 566.8L497.9 565.2L499.4 563.6L500.8 562.0L502.0 560.5L503.2 559.1L504.3 557.8L505.4 556.6L506.5 555.4L507.5 554.4L508.6 553.5L509.7 552.6L511.1 551.7L512.6 550.7L514.2 549.5L516.0 548.2L517.8 546.6L519.6 544.8L521.2 542.9L522.7 541.0L524.1 539.0L525.5 537.0L526.9 534.9L528.1 532.8L529.4 530.6L530.6 528.4L531.9 526.1L533.0 523.6L534.2 521.2L535.3 518.7L536.3 516.3L537.3 514.0L538.3 511.8L539.2 509.8L540.1 507.9L541.1 506.0L542.0 504.2L542.9 502.4L543.8 500.6L544.8 498.7L545.7 496.8L546.7 494.8L547.7 492.7L548.7 490.5L549.6 488.3L550.6 486.1L551.5 484.0L552.5 481.9L553.4 479.9L554.2 478.0L555.1 476.1L555.9 474.3L556.7 472.5L557.4 470.9L558.1 469.4L558.8 468.1L559.5 466.9L560.3 465.7L561.2 464.4L562.2 463.0L563.2 461.7L564.1 460.6L564.9 459.7L565.5 459.2L565.5 459.1L564.8 459.4L563.8 459.4L563.3 459.3L563.4 459.4L563.9 459.7L564.6 460.3L565.5 461.2L566.5 462.2L567.4 463.2L568.2 464.1L569.0 465.0L569.8 466.2L570.6 467.4L571.4 468.7L572.2 470.2L573.0 471.7L573.7 473.2L574.5 474.7L575.1 476.2L575.8 477.9L576.5 479.7L577.1 481.5L577.8 483.5L578.5 485.4L579.2 487.4L579.9 489.3L580.5 491.4L581.2 493.6L581.9 495.9L582.7 498.3L583.5 500.6L584.4 503.0L585.5 505.1L586.5 506.9L587.6 508.7L588.9 510.3L590.3 512.0L591.9 513.6L594.0 515.0L596.8 516.1L600.4 516.3L603.8 515.2L606.2 513.6L607.9 511.9L609.2 510.2L610.3 508.6L611.4 507.1L612.4 505.7L613.4 504.4L614.6 502.8L615.9 501.0L617.3 499.1L618.5 497.3L619.8 495.6L621.0 494.0L622.0 492.6L622.9 491.6L623.8 490.8L624.5 490.1L625.2 489.5L625.9 489.1L626.6 488.6L627.3 488.2L628.2 487.7L629.3 487.1L630.7 486.4L631.9 485.7L632.9 485.1L633.6 484.8L634.0 484.6L634.2 484.5L634.3 484.5L634.1 484.4L634.3 484.5L635.3 485.2L637.0 486.6L639.1 488.3L641.5 490.1L644.4 491.9L648.1 493.3L652.6 493.3L656.2 491.9L658.8 490.2L661.0 487.9L662.8 485.5L664.3 482.7L665.7 479.7L667.1 476.3L668.6 472.4L670.1 467.8L671.7 462.6L673.2 456.9L674.8 450.7L676.4 444.3L678.0 437.6L679.6 430.9L681.2 424.1L682.8 416.8L684.5 408.9L686.1 400.6L687.8 392.2L689.4 384.1L691.0 376.5L692.5 369.8L693.9 364.4L695.2 359.9L696.3 356.1L697.4 353.2L698.2 351.0L698.9 349.6L699.3 349.1L699.3 349.1L698.3 349.5L696.3 349.4L695.6 349.2L696.3 349.8L697.7 351.3L699.4 353.4L701.4 355.7L703.6 358.1L706.0 360.1L708.2 361.7L710.3 363.4L712.7 365.3L715.2 367.2L718.0 369.1L721.1 370.6L724.9 371.7L729.4 371.6L733.3 369.9L736.1 367.6L738.3 364.9L740.0 362.1L741.4 359.2L742.7 356.2L743.9 353.1L745.1 349.8L746.3 345.9L747.3 341.6L748.3 337.0L749.2 332.4L750.0 327.8L750.9 323.6L751.7 320.0L752.5 317.0L753.3 314.3L754.1 311.6L754.9 309.3L755.6 307.6L756.0 306.6L755.8 306.8L753.6 308.0L749.9 307.8L748.7 307.0L749.0 307.5L749.9 309.0L751.0 311.4L752.2 314.3L753.5 317.6L754.8 321.2L756.2 324.9L757.6 329.0L759.2 333.8L760.8 339.0L762.5 344.5L764.1 350.0L765.6 355.3L767.0 360.2L768.2 364.4L769.2 368.0L770.0 371.1L770.6 373.9L771.2 376.5L771.7 379.0L772.2 381.4L772.7 383.9L773.3 386.6L773.9 389.2L774.5 391.6L775.1 393.9L775.6 396.2L776.1 398.5L776.7 400.9L777.3 403.6L777.9 406.5L778.6 409.8L779.3 413.5L780.0 417.6L780.8 421.8L781.6 426.0L782.4 430.0L783.2 433.7L784.0 436.9L784.8 439.5L785.6 441.8L786.3 443.8L787.2 445.6L788.1 447.3L789.1 448.7L790.1 450.0L791.1 451.2L792.0 452.2L793.0 453.3L794.3 454.5L795.9 455.8L798.0 456.9L800.3 457.7L802.8 458.0L805.6 458.0L808.8 457.3L811.7 456.2L814.5 455.0L817.0 453.8L819.4 452.7L821.3 452.0L822.2 451.7L822.2 451.7L822.1 451.8L822.2 451.8L822.3 451.9L822.6 452.3L823.2 453.3L823.9 454.9L824.8 457.1L825.7 459.8L826.7 463.0L827.8 467.0L828.8 471.5L829.9 476.5L831.0 481.7L832.1 486.9L833.2 492.0L834.3 496.7L835.4 501.1L836.5 505.4L837.6 509.7L838.6 514.0L839.7 518.1L840.9 522.2L842.0 526.1L843.2 529.8L844.5 533.3L845.7 536.5L847.0 539.6L848.3 542.5L849.6 545.3L850.9 548.0L852.3 550.7L853.7 553.4L855.2 556.2L856.9 559.0L858.5 561.8L860.2 564.5L861.9 567.1L863.6 569.7L865.2 572.0L866.7 574.2L868.2 576.2L869.6 578.0L871.0 579.7L872.4 581.4L873.8 582.9L875.2 584.3L876.6 585.6L878.0 586.8L879.3 587.8L880.6 588.7L882.0 589.7L883.6 590.5L885.4 591.3L887.4 591.8L889.4 592.1L891.8 592.1L894.5 591.7L896.9 590.9L898.8 590.0L900.6 589.1L902.0 588.5L903.3 588.0L904.2 587.7L904.9 587.6L905.8 587.7L907.3 588.1L909.3 588.9L911.8 589.8L914.5 590.7L917.5 591.6L921.0 592.2L924.8 592.0L928.4 591.1L931.5 589.6L934.0 587.9L936.2 586.2L938.1 584.6L939.9 583.3L941.4 582.3L942.9 581.5L944.8 580.7L947.0 580.0L949.3 579.3L951.7 578.6L954.2 578.0L956.6 577.4L959.0 576.9L961.2 576.5L963.1 576.2L964.9 576.1L966.8 576.0L968.9 576.0L971.1 576.0L973.6 575.8L976.4 575.5L979.2 574.9L981.9 574.2L984.6 573.3L987.4 572.4L990.3 571.3L993.1 570.1L995.8 568.9L998.5 567.5L1001.2 566.1L1003.8 564.4L1006.2 562.5L1008.3 560.6L1010.3 558.7L1012.1 557.0L1013.7 555.5L1015.2 554.3L1016.5 553.3L1018.0 552.3L1019.4 551.4L1020.7 550.6L1021.8 550.0L1022.8 549.6L1023.6 549.3L1024.5 549.1L1025.3 549.0L1026.3 549.0L1027.5 549.1L1028.8 549.4L1030.3 549.8L1031.9 550.3L1033.6 551.0L1035.3 551.7L1036.9 552.4L1038.4 553.2L1040.0 554.2L1041.8 555.5L1043.7 556.9L1045.7 558.3L1047.7 559.8L1049.8 561.1L1051.9 562.3L1053.8 563.2L1055.6 563.9L1057.3 564.4L1058.9 564.7L1060.3 565.0L1061.6 565.1L1062.7 565.3L1064.2 565.5L1066.1 565.6L1068.1 565.6L1069.8 565.6L1071.2 565.5L1072.3 565.5L1073.2 565.6L1073.8 565.7L1074.4 565.9L1075.2 566.5L1076.3 567.3L1077.5 568.3L1078.7 569.6L1080.1 571.1L1081.6 572.8L1083.1 574.7L1084.8 576.7L1086.4 578.8L1088.2 581.2L1090.0 583.9L1092.0 586.7L1093.9 589.6L1095.9 592.5L1097.8 595.2L1099.6 597.7L1101.3 600.0L1102.9 602.1L1104.4 604.3L1106.0 606.4L1107.7 608.4L1109.5 610.4L1111.4 612.3L1113.4 614.0L1115.4 615.5L1117.5 616.8L1119.6 618.0L1121.9 619.1L1124.4 620.0L1127.1 620.5L1129.9 620.7L1132.9 620.2L1135.7 619.2L1138.1 617.8L1140.2 616.1L1142.0 614.3L1143.7 612.3L1145.2 610.3L1146.7 608.3L1148.1 606.1L1149.6 603.7L1151.0 601.0L1152.3 598.3L1153.6 595.5L1154.8 592.8L1156.0 590.1L1157.2 587.5L1158.5 585.1L1159.8 582.5L1161.2 579.8L1162.6 577.1L1163.9 574.5L1165.3 572.1L1166.7 569.8L1168.0 567.9L1169.3 566.1L1170.7 564.4L1172.1 562.7L1173.5 561.2L1174.7 560.0L1175.7 559.2L1176.4 558.8L1176.7 558.7L1176.4 558.7L1176.2 558.6L1176.6 558.9L1177.8 559.9L1179.3 561.3L1181.1 563.2L1183.2 565.3L1185.6 567.4L1188.3 569.3L1190.9 571.0L1193.6 572.6L1196.6 574.4L1199.6 576.2L1202.7 577.8L1205.8 579.2L1208.9 580.4L1212.1 581.1L1215.5 581.2L1218.7 580.3L1221.4 578.7L1223.3 577.0L1224.6 575.3L1225.6 573.9L1226.4 572.8L1227.3 571.7L1228.5 570.1L1229.7 568.3L1230.8 566.5L1231.8 564.7L1232.8 563.0L1233.7 561.5L1234.6 560.1L1235.4 559.0L1236.2 557.9L1237.2 556.8L1238.0 555.7L1238.9 554.8L1239.7 554.0L1240.5 553.2L1241.2 552.6L1241.9 552.2L1242.3 551.9L1242.7 551.8L1243.4 551.6L1244.4 551.4L1245.8 551.0L1247.6 550.6L1249.5 549.9L1251.5 548.9L1253.3 547.9L1255.0 546.8L1256.8 545.6L1258.6 544.3L1260.5 542.9L1262.4 541.5L1264.3 539.9L1266.2 538.3L1268.1 536.5L1270.0 534.6L1271.9 532.7L1273.9 530.6L1275.8 528.6L1277.6 526.5L1279.3 524.5L1281.0 522.5L1282.6 520.5L1284.1 518.5L1285.4 516.5L1286.6 514.7L1287.7 513.0L1288.8 511.5L1289.7 510.2L1290.7 509.0L1291.8 507.9L1293.0 506.8L1294.1 505.8L1295.2 504.9L1296.3 504.1L1297.3 503.4L1298.3 502.9L1299.0 502.6L1299.4 502.5L1299.9 502.5L1300.7 502.5L1302.0 502.6L1303.5 502.7L1305.4 502.8L1307.7 502.7L1309.9 502.3L1311.8 501.7L1313.4 501.1L1315.1 500.4L1316.7 499.5L1318.3 498.6L1319.9 497.5L1321.4 496.2L1322.9 494.8L1324.5 493.3L1326.0 491.6L1327.4 489.8L1328.9 487.9L1330.3 486.0L1331.6 484.0L1332.9 482.1L1334.1 480.1L1335.2 478.1L1336.2 476.1L1337.2 474.1L1338.1 472.1L1339.0 470.1L1339.8 468.1L1340.5 466.0L1341.3 464.0L1342.1 461.7L1342.8 459.4L1343.4 457.1L1344.0 454.9L1344.6 452.8L1345.2 450.8L1345.7 449.0L1346.3 447.3L1346.9 445.7L1347.6 444.0L1348.2 442.5L1348.9 441.0L1349.5 439.7L1350.1 438.6L1350.6 437.8L1351.1 437.1L1351.6 436.5L1352.1 436.0L1352.4 435.7L1352.5 435.6L1352.4 435.7L1352.0 435.8L1351.6 435.8L1351.1 435.8L1350.8 435.7L1351.0 435.8L1351.7 436.3L1352.6 437.0L1353.7 437.9L1354.9 439.0L1356.2 440.1L1357.5 441.2L1358.8 442.2L1360.0 443.2L1361.2 444.1L1362.4 445.2L1363.7 446.2L1365.0 447.2L1366.3 448.2L1367.5 449.2L1368.7 450.2L1369.9 451.2L1371.2 452.2L1372.4 453.2L1373.7 454.2L1375.1 455.3L1376.5 456.3L1378.0 457.3L1379.4 458.2L1380.8 459.1L1382.3 460.1L1383.9 461.0L1385.6 462.0L1387.4 462.9L1389.3 463.7L1391.3 464.4L1393.5 465.0L1395.6 465.3L1397.6 465.6L1399.5 465.7L1401.2 465.8L1402.9 465.9L1404.4 466.0L1405.9 466.2L1407.5 466.4L1409.2 466.6L1410.9 466.8L1412.5 467.0L1414.0 467.2L1415.5 467.5L1416.9 467.8L1418.2 468.1L1419.5 468.5L1420.8 469.0L1422.0 469.5L1423.3 470.0L1424.6 470.6L1425.8 471.2L1427.1 471.9L1428.4 472.5L1429.6 473.2L1430.8 474.0L1432.1 475.0L1433.5 476.0L1435.0 477.1L1436.6 478.2L1438.3 479.3L1440.0 480.4L1441.7 481.2L1443.3 482.0L1445.0 482.8L1446.6 483.5L1448.2 484.1L1449.9 484.7L1451.6 485.3L1453.3 485.8L1455.0 486.2L1456.7 486.6L1458.4 486.9L1460.1 487.1L1461.8 487.3L1463.5 487.4L1465.2 487.5L1466.8 487.5L1468.4 487.4L1469.9 487.3L1471.5 487.2L1473.1 486.9L1474.7 486.6L1476.4 486.1L1478.1 485.5L1479.7 484.8L1481.3 483.9L1482.8 482.9L1484.2 481.8L1485.5 480.7L1486.8 479.5L1487.9 478.3L1489.0 477.1L1490.1 475.8L1491.2 474.5L1492.3 473.1L1493.3 471.7L1494.3 470.2L1495.2 468.7L1496.2 467.1L1497.1 465.5L1498.0 463.7L1499.0 461.8L1500.0 459.7L1500.9 457.6L1501.9 455.4L1502.8 453.3L1503.6 451.3L1504.4 449.5L1505.2 447.8L1506.0 446.1L1506.7 444.5L1507.3 443.0L1507.9 441.7L1508.4 440.6L1508.9 439.6L1509.4 438.9L1509.7 438.4L1510.0 438.1L1510.2 437.9L1510.5 437.7L1511.0 437.4L1511.7 437.1L1512.6 436.6L1513.8 435.9L1514.9 435.2L1515.8 434.7L1516.6 434.2L1517.6 433.6L1518.7 433.0L1520.1 432.1L1521.5 431.0L1522.9 429.8L1524.3 428.3L1525.4 426.8L1526.4 425.3L1527.4 423.6L1528.4 422.0L1529.3 420.2L1530.1 418.4L1530.9 416.5L1531.7 414.5L1532.4 412.5L1533.1 410.3L1533.7 408.1L1534.3 405.9L1534.9 403.6L1535.4 401.3L1536.0 399.0L1536.5 396.5L1537.1 394.0L1537.7 391.4L1538.3 388.7L1538.9 385.9L1539.5 383.1L1540.1 380.3L1540.7 377.3L1541.3 374.4L1542.0 371.1L1542.7 367.5L1543.5 363.7L1544.2 359.9L1545.0 356.3L1545.6 353.1L1546.2 350.3L1546.6 348.3L1533.4 345.7L1533.0 347.7L1532.5 350.5L1531.8 353.7L1531.1 357.3L1530.3 361.1L1529.6 364.8L1528.9 368.4L1528.2 371.6L1527.6 374.6L1527.0 377.5L1526.4 380.4L1525.8 383.2L1525.2 385.9L1524.6 388.5L1524.1 391.0L1523.5 393.5L1522.9 395.9L1522.4 398.2L1521.8 400.5L1521.3 402.6L1520.8 404.6L1520.2 406.5L1519.7 408.2L1519.1 409.9L1518.5 411.4L1517.9 413.0L1517.2 414.4L1516.5 415.7L1515.9 416.9L1515.2 418.0L1514.5 418.9L1513.9 419.7L1513.5 420.3L1513.0 420.7L1512.4 421.1L1511.7 421.5L1510.9 422.0L1509.9 422.6L1508.7 423.3L1507.7 424.0L1507.0 424.4L1506.4 424.8L1505.5 425.2L1504.5 425.7L1503.3 426.4L1502.0 427.4L1500.6 428.6L1499.3 430.0L1498.2 431.5L1497.2 433.1L1496.4 434.6L1495.7 436.1L1495.1 437.6L1494.4 439.1L1493.7 440.6L1493.0 442.2L1492.2 444.0L1491.3 446.0L1490.4 448.1L1489.5 450.2L1488.7 452.2L1487.8 454.1L1487.0 455.9L1486.2 457.5L1485.4 459.0L1484.6 460.4L1483.8 461.7L1483.0 462.9L1482.2 464.1L1481.5 465.2L1480.7 466.2L1479.9 467.2L1479.0 468.2L1478.2 469.1L1477.3 470.0L1476.5 470.8L1475.7 471.4L1475.0 472.0L1474.3 472.5L1473.7 472.8L1473.0 473.1L1472.3 473.4L1471.6 473.6L1470.7 473.8L1469.8 473.9L1468.8 474.0L1467.7 474.1L1466.6 474.1L1465.4 474.1L1464.3 474.1L1463.1 474.0L1461.8 473.8L1460.5 473.6L1459.3 473.4L1458.0 473.1L1456.7 472.8L1455.5 472.5L1454.2 472.1L1453.0 471.6L1451.7 471.1L1450.4 470.5L1449.1 469.9L1447.8 469.3L1446.6 468.6L1445.4 468.0L1444.2 467.2L1442.9 466.2L1441.5 465.2L1440.0 464.1L1438.4 463.0L1436.7 461.9L1435.0 460.9L1433.4 460.0L1431.8 459.2L1430.2 458.4L1428.6 457.7L1427.0 457.0L1425.3 456.4L1423.6 455.8L1421.8 455.3L1420.0 454.8L1418.1 454.4L1416.2 454.0L1414.4 453.8L1412.6 453.5L1410.9 453.3L1409.2 453.1L1407.5 452.8L1405.6 452.6L1403.7 452.5L1402.0 452.4L1400.3 452.3L1398.8 452.2L1397.5 452.1L1396.3 451.9L1395.3 451.6L1394.2 451.2L1393.1 450.7L1391.9 450.1L1390.6 449.4L1389.4 448.7L1388.1 447.8L1386.7 447.0L1385.4 446.1L1384.2 445.3L1383.1 444.5L1381.9 443.6L1380.8 442.7L1379.6 441.8L1378.4 440.8L1377.1 439.8L1375.9 438.8L1374.6 437.8L1373.4 436.8L1372.1 435.8L1370.9 434.7L1369.6 433.7L1368.3 432.7L1367.1 431.7L1365.9 430.8L1364.8 429.9L1363.7 428.9L1362.5 427.9L1361.2 426.7L1359.8 425.6L1358.2 424.5L1356.2 423.4L1353.9 422.6L1351.5 422.4L1349.2 422.7L1347.2 423.3L1345.4 424.2L1343.9 425.3L1342.6 426.5L1341.5 427.6L1340.5 428.9L1339.4 430.4L1338.5 432.0L1337.6 433.6L1336.7 435.4L1335.9 437.1L1335.2 438.9L1334.4 440.8L1333.7 442.7L1333.0 444.8L1332.3 447.0L1331.7 449.2L1331.1 451.4L1330.5 453.6L1329.9 455.6L1329.3 457.6L1328.7 459.4L1328.0 461.3L1327.3 463.2L1326.6 465.0L1325.8 466.7L1325.1 468.5L1324.3 470.1L1323.4 471.7L1322.5 473.3L1321.5 474.9L1320.4 476.6L1319.3 478.3L1318.1 479.9L1316.9 481.5L1315.8 482.9L1314.7 484.1L1313.7 485.2L1312.7 486.0L1311.8 486.7L1310.9 487.4L1310.1 487.9L1309.3 488.3L1308.4 488.7L1307.4 489.0L1306.7 489.3L1306.2 489.4L1305.6 489.4L1304.5 489.4L1303.1 489.2L1301.4 489.1L1299.3 489.1L1296.9 489.3L1294.4 490.0L1292.3 490.9L1290.5 491.9L1288.7 493.0L1287.1 494.3L1285.4 495.6L1283.9 497.0L1282.4 498.4L1280.9 500.0L1279.3 501.7L1277.9 503.6L1276.6 505.5L1275.4 507.3L1274.2 509.1L1273.1 510.8L1271.9 512.4L1270.6 514.1L1269.1 515.8L1267.5 517.7L1265.8 519.6L1264.1 521.5L1262.3 523.4L1260.5 525.2L1258.8 526.8L1257.2 528.3L1255.6 529.7L1254.0 531.0L1252.4 532.3L1250.8 533.4L1249.3 534.5L1247.8 535.5L1246.3 536.4L1245.1 537.1L1244.2 537.5L1243.5 537.8L1242.6 538.0L1241.5 538.3L1240.2 538.6L1238.5 539.1L1236.6 539.8L1234.7 540.8L1233.1 542.0L1231.7 543.1L1230.4 544.3L1229.2 545.6L1228.0 546.9L1226.9 548.2L1225.8 549.5L1224.6 551.0L1223.4 552.7L1222.3 554.5L1221.2 556.3L1220.2 558.0L1219.3 559.6L1218.4 561.0L1217.6 562.2L1216.7 563.3L1215.6 564.8L1214.6 566.2L1213.9 567.3L1213.4 567.9L1213.2 568.1L1213.5 568.0L1213.9 567.9L1213.9 567.9L1212.9 567.6L1211.1 566.9L1208.7 565.8L1206.1 564.4L1203.3 562.9L1200.6 561.2L1198.0 559.6L1195.7 558.2L1194.0 556.9L1192.4 555.5L1190.6 553.7L1188.7 551.8L1186.7 549.9L1184.3 547.9L1181.3 546.2L1177.6 545.3L1173.9 545.6L1170.7 546.7L1168.1 548.2L1165.9 550.0L1163.9 551.9L1162.1 553.9L1160.4 555.8L1158.7 557.9L1157.0 560.2L1155.3 562.7L1153.7 565.4L1152.2 568.1L1150.7 570.9L1149.3 573.7L1147.9 576.3L1146.5 578.9L1145.2 581.7L1143.8 584.5L1142.6 587.3L1141.4 590.1L1140.2 592.6L1139.1 595.0L1138.0 597.1L1136.9 598.9L1135.7 600.6L1134.4 602.4L1133.3 603.9L1132.2 605.2L1131.2 606.2L1130.4 606.8L1129.9 607.1L1129.6 607.3L1129.4 607.3L1128.9 607.2L1128.0 607.1L1127.0 606.7L1125.7 606.1L1124.4 605.3L1123.0 604.4L1121.6 603.5L1120.4 602.5L1119.2 601.3L1118.0 599.8L1116.6 598.1L1115.2 596.3L1113.7 594.2L1112.1 592.0L1110.4 589.8L1108.7 587.4L1106.9 584.9L1105.0 582.1L1103.0 579.2L1101.1 576.3L1099.1 573.5L1097.1 570.8L1095.2 568.3L1093.5 566.2L1091.8 564.2L1090.1 562.2L1088.4 560.4L1086.7 558.6L1084.8 557.0L1082.9 555.5L1080.6 554.1L1078.1 552.9L1075.5 552.3L1073.1 552.0L1071.0 552.0L1069.2 552.1L1067.8 552.1L1066.8 552.1L1065.8 552.0L1064.6 551.8L1063.3 551.7L1062.3 551.5L1061.4 551.4L1060.7 551.2L1060.0 551.0L1059.1 550.7L1058.1 550.2L1057.0 549.5L1055.5 548.5L1053.8 547.3L1051.9 545.8L1049.9 544.3L1047.7 542.8L1045.4 541.3L1043.1 540.1L1040.9 539.1L1038.8 538.1L1036.6 537.3L1034.4 536.5L1032.1 535.9L1029.7 535.4L1027.2 535.1L1024.7 535.0L1022.2 535.3L1019.9 535.8L1017.7 536.5L1015.7 537.4L1013.8 538.4L1012.0 539.4L1010.3 540.5L1008.5 541.7L1006.4 543.2L1004.4 545.0L1002.4 546.7L1000.6 548.4L998.9 550.1L997.2 551.6L995.5 552.8L993.8 553.9L991.9 555.0L989.7 556.1L987.4 557.1L985.1 558.1L982.6 559.0L980.2 559.8L977.9 560.5L975.8 561.1L974.1 561.5L972.4 561.7L970.6 561.8L968.6 561.8L966.5 561.8L964.1 561.9L961.5 562.1L958.8 562.5L956.2 563.0L953.6 563.5L950.9 564.2L948.1 564.8L945.3 565.6L942.6 566.5L939.9 567.4L937.1 568.5L934.2 570.0L931.6 571.7L929.3 573.5L927.4 575.0L925.7 576.3L924.3 577.3L923.3 577.8L922.7 578.0L922.0 578.0L920.7 577.7L918.9 577.2L916.7 576.4L914.2 575.5L911.5 574.5L908.4 573.7L905.1 573.4L901.8 573.7L898.9 574.4L896.5 575.3L894.4 576.3L892.8 577.1L891.6 577.6L890.9 577.9L890.7 577.9L890.4 577.9L890.1 577.8L889.9 577.8L889.7 577.7L889.3 577.5L888.8 577.1L888.0 576.5L887.0 575.7L886.0 574.9L885.1 574.0L884.1 573.0L883.1 571.9L882.0 570.6L880.8 569.2L879.6 567.6L878.3 565.8L876.9 563.9L875.4 561.7L873.9 559.4L872.3 556.9L870.7 554.4L869.2 551.8L867.7 549.2L866.3 546.6L865.0 544.1L863.7 541.6L862.4 539.1L861.3 536.6L860.1 534.0L859.0 531.3L857.9 528.3L856.8 525.2L855.7 521.8L854.6 518.2L853.5 514.4L852.4 510.4L851.4 506.2L850.3 502.0L849.3 497.7L848.2 493.3L847.1 488.8L846.0 483.9L845.0 478.8L843.9 473.5L842.8 468.4L841.6 463.6L840.5 459.1L839.3 455.2L838.1 452.1L837.0 449.3L835.9 446.8L834.5 444.4L832.8 442.2L830.5 440.2L827.8 438.7L824.6 437.7L820.7 437.5L817.1 438.3L813.9 439.5L811.1 440.8L808.4 442.0L806.2 443.1L804.6 443.7L804.0 443.8L803.7 443.8L803.6 443.8L803.6 443.8L803.7 443.8L803.6 443.7L803.3 443.4L802.7 442.7L801.9 441.8L801.2 441.0L800.7 440.4L800.3 439.8L799.9 439.1L799.5 438.2L799.0 436.9L798.4 435.2L797.8 433.1L797.1 430.4L796.4 427.1L795.6 423.3L794.9 419.2L794.1 415.0L793.3 410.9L792.6 407.0L791.9 403.5L791.2 400.5L790.6 397.8L790.1 395.3L789.5 392.9L789.0 390.6L788.4 388.3L787.9 385.9L787.3 383.4L786.7 380.9L786.2 378.5L785.7 376.1L785.2 373.5L784.6 370.7L783.8 367.7L783.0 364.4L782.0 360.6L780.8 356.3L779.4 351.3L777.8 345.9L776.2 340.4L774.5 334.8L772.8 329.4L771.1 324.4L769.6 320.1L768.2 316.2L766.8 312.5L765.5 308.9L764.1 305.6L762.7 302.6L761.1 299.8L759.1 297.2L755.7 294.6L749.9 294.2L745.7 296.7L743.7 299.3L742.5 301.9L741.5 304.5L740.5 307.2L739.7 310.0L738.7 313.0L737.8 316.6L736.9 320.7L736.0 325.1L735.1 329.7L734.3 334.2L733.4 338.4L732.5 342.2L731.5 345.2L730.5 348.1L729.4 350.8L728.4 353.3L727.4 355.3L726.5 356.8L725.8 357.6L725.6 357.8L726.2 357.6L727.0 357.6L726.6 357.4L725.3 356.7L723.5 355.5L721.4 354.0L719.2 352.2L716.9 350.4L715.0 348.9L713.5 347.7L712.0 346.1L710.3 344.1L708.5 341.9L706.4 339.6L703.8 337.4L699.9 335.5L694.9 335.5L691.1 337.3L688.6 339.6L686.7 342.2L685.2 345.0L683.9 348.2L682.7 351.7L681.5 355.8L680.1 360.6L678.6 366.5L677.0 373.5L675.4 381.2L673.7 389.4L672.1 397.8L670.4 406.0L668.8 413.8L667.2 420.9L665.6 427.6L664.1 434.3L662.5 440.9L660.9 447.2L659.4 453.2L657.9 458.6L656.4 463.5L655.0 467.6L653.7 471.1L652.6 474.0L651.5 476.2L650.6 477.8L650.0 478.8L649.5 479.2L649.4 479.3L649.9 479.2L650.9 479.2L650.9 479.2L649.8 478.4L648.1 477.1L646.0 475.4L643.8 473.6L641.1 471.9L637.9 470.6L634.7 470.1L632.0 470.3L629.6 470.9L627.6 471.7L625.9 472.6L624.6 473.3L623.6 473.9L622.7 474.5L621.6 475.0L620.4 475.6L619.1 476.4L617.8 477.2L616.5 478.1L615.2 479.2L613.9 480.4L612.5 481.8L611.0 483.4L609.6 485.2L608.2 487.1L606.8 489.0L605.5 490.8L604.3 492.6L603.1 494.2L602.0 495.6L600.8 497.2L599.6 498.9L598.6 500.4L597.7 501.6L597.1 502.4L596.7 502.8L597.2 502.5L598.6 502.1L600.2 502.1L601.0 502.4L601.1 502.5L600.7 502.2L600.2 501.5L599.5 500.6L598.8 499.4L598.1 498.3L597.6 497.1L596.9 495.6L596.3 493.8L595.6 491.7L595.0 489.5L594.3 487.2L593.5 484.8L592.8 482.6L592.1 480.6L591.4 478.7L590.7 476.7L589.9 474.7L589.2 472.7L588.4 470.7L587.6 468.7L586.7 466.8L585.7 465.0L584.8 463.2L583.8 461.5L582.8 459.8L581.7 458.1L580.5 456.5L579.3 454.9L578.0 453.4L576.8 452.2L575.6 450.9L574.2 449.6L572.6 448.3L570.7 447.0L568.4 445.9L565.5 445.1L562.2 445.2L559.1 446.3L556.8 447.7L554.9 449.4L553.4 451.0L551.9 452.7L550.6 454.4L549.5 456.1L548.3 457.7L547.2 459.4L546.2 461.2L545.2 463.1L544.4 464.9L543.6 466.7L542.8 468.4L542.0 470.2L541.2 472.0L540.3 474.0L539.3 476.0L538.4 478.2L537.4 480.3L536.5 482.5L535.5 484.6L534.6 486.7L533.7 488.6L532.8 490.5L531.9 492.3L531.0 494.0L530.1 495.8L529.2 497.6L528.2 499.5L527.2 501.5L526.2 503.6L525.1 505.9L524.1 508.2L523.1 510.6L522.1 513.0L521.0 515.3L520.0 517.5L519.0 519.6L518.0 521.6L516.9 523.5L515.8 525.4L514.6 527.3L513.5 529.1L512.3 530.8L511.2 532.4L510.1 533.9L509.0 535.2L508.0 536.2L507.0 537.1L505.8 538.0L504.4 539.0L503.0 540.0L501.3 541.2L499.6 542.5L497.9 544.0L496.3 545.6L494.9 547.1L493.6 548.6L492.4 550.0L491.2 551.5L490.0 552.9L488.8 554.3L487.5 555.8L486.0 557.4L484.5 559.1L483.0 560.8L481.4 562.5L479.8 564.2L478.1 566.0L476.4 567.7L474.6 569.4L472.7 571.1L470.6 572.9L468.4 574.8L466.1 576.6L463.8 578.5L461.4 580.4L459.1 582.3L456.8 584.1L454.5 586.0L452.2 587.8L449.9 589.6L447.7 591.4L445.4 593.1L443.2 594.8L441.0 596.4L438.8 598.0L436.6 599.6L434.4 601.2L432.3 602.7L430.2 604.1L428.2 605.5L426.1 606.7L424.1 607.9L422.0 609.0L420.0 610.0L417.9 610.8L415.6 611.6L413.1 612.4L410.5 613.3L407.8 614.2L405.0 615.3L402.1 616.6L399.3 618.0L396.5 619.7L393.8 621.3L391.2 623.0L388.6 624.6L386.3 626.1L384.1 627.3L382.1 628.4L380.2 629.3L378.3 630.1L376.5 630.9L375.0 631.4L373.6 631.9L372.4 632.1L371.3 632.3L370.5 632.3L369.8 632.2L369.0 631.9L367.9 631.4L366.7 630.7L365.3 629.9L363.9 628.9L362.4 627.9L361.0 627.1L360.0 626.4L359.2 625.8L358.3 624.9L357.2 624.0L355.9 622.9L354.3 621.7L352.3 620.6L350.1 619.9L347.9 619.7L346.0 619.8L344.1 620.1L342.3 620.7L340.6 621.4L339.1 622.3L337.6 623.3L336.0 624.5L334.2 626.1L332.5 627.8L331.0 629.6L329.6 631.4L328.1 633.1L326.7 634.7L325.2 636.1L323.6 637.4L321.7 638.8L319.5 640.3L317.0 641.8L314.4 643.3L311.8 644.7L309.3 645.9L307.1 647.0L305.2 647.9L303.9 648.3L302.9 648.5L301.8 648.6L300.5 648.7L299.0 648.7L297.1 648.8L294.8 649.2L292.6 649.9L290.8 650.8L289.2 651.7L287.6 652.7L286.1 653.8L284.6 655.1L283.2 656.4L281.7 658.0L280.1 659.8L278.4 662.0L276.8 664.5L275.2 667.2L273.6 669.8L272.1 672.3L270.6 674.5L269.3 676.2L268.2 677.4L267.1 678.3L266.0 679.0L264.8 679.6L263.6 680.1L262.3 680.5L261.0 680.8L259.6 681.1L258.2 681.2L257.0 681.3L255.9 681.2L254.7 681.1L253.3 680.8L251.9 680.4L250.3 680.0L248.6 679.5L246.9 679.0L245.5 678.5L244.0 677.9L242.3 677.1L240.5 676.1L238.4 675.1L236.0 674.2L233.4 673.4L230.5 673.0L227.4 673.0L224.6 673.4L222.1 674.0L219.8 674.7L217.8 675.2L216.1 675.6L214.6 675.8L213.2 675.7L211.5 675.4L209.5 674.9L207.4 674.1L205.1 673.2L202.7 672.2L200.2 671.1L197.6 669.9L195.1 668.8L192.7 667.7L190.3 666.4L187.9 665.1L185.3 663.8L182.8 662.4L180.2 661.1L177.7 659.7L175.1 658.5L172.6 657.4L170.2 656.5L167.9 655.6L165.6 654.8L163.5 654.0L161.5 653.3L159.5 652.5L157.6 651.7L155.6 650.7L153.4 649.6L151.1 648.4L148.8 647.1L146.6 646.0L144.7 644.9L143.0 644.0L141.8 643.3Z" fill="url(#lg)" stroke="url(#lg)" stroke-width="0.4" stroke-linejoin="round" fill-rule="nonzero"/>
  <!-- page bottom rule -->
  <line x1="0" y1="1022" x2="1536" y2="1022" stroke="#cbcbcb" stroke-width="1.9"/>
  <line x1="1535.6" y1="0" x2="1535.6" y2="343" stroke="#e2e2e2" stroke-width="1"/>
  <!-- title -->
  <text class="title" x="415.6" y="76" textLength="697.8" lengthAdjust="spacingAndGlyphs">Natural gas bills are on the rise in Ohio</text>
  <!-- y tick labels -->
  <g class="tick" text-anchor="end">
    <text x="124.9" y="135" textLength="81.3" lengthAdjust="spacingAndGlyphs">$200.00</text>
    <text x="124.9" y="337" textLength="81.3" lengthAdjust="spacingAndGlyphs">$150.00</text>
    <text x="124.9" y="539" textLength="81.3" lengthAdjust="spacingAndGlyphs">$100.00</text>
    <text x="124.9" y="742" textLength="68.9" lengthAdjust="spacingAndGlyphs">$50.00</text>
    <text x="124.9" y="943" textLength="56.0" lengthAdjust="spacingAndGlyphs">$0.00</text>
  </g>
  <!-- x tick labels -->
  <g class="tick" text-anchor="middle" style="font-size:22.3px">
    <text x="135.2" y="966" textLength="136.4" lengthAdjust="spacingAndGlyphs">January 2020</text>
    <text x="598.1" y="966" textLength="136.4" lengthAdjust="spacingAndGlyphs">January 2022</text>
    <text x="1060.2" y="966" textLength="136.4" lengthAdjust="spacingAndGlyphs">January 2024</text>
    <text x="1522.8" y="966" textLength="136.4" lengthAdjust="spacingAndGlyphs">January 2026</text>
  </g>
  <!-- y axis title (clipped by the left edge, as in the source) -->
  <text class="tick" style="font-size:23.4px" text-anchor="middle" transform="translate(4.7 543) rotate(-90)" x="0" y="0" textLength="274" lengthAdjust="spacingAndGlyphs">Gas bill for 10 Mcf's of use</text>
</svg>
</body>
</html>
